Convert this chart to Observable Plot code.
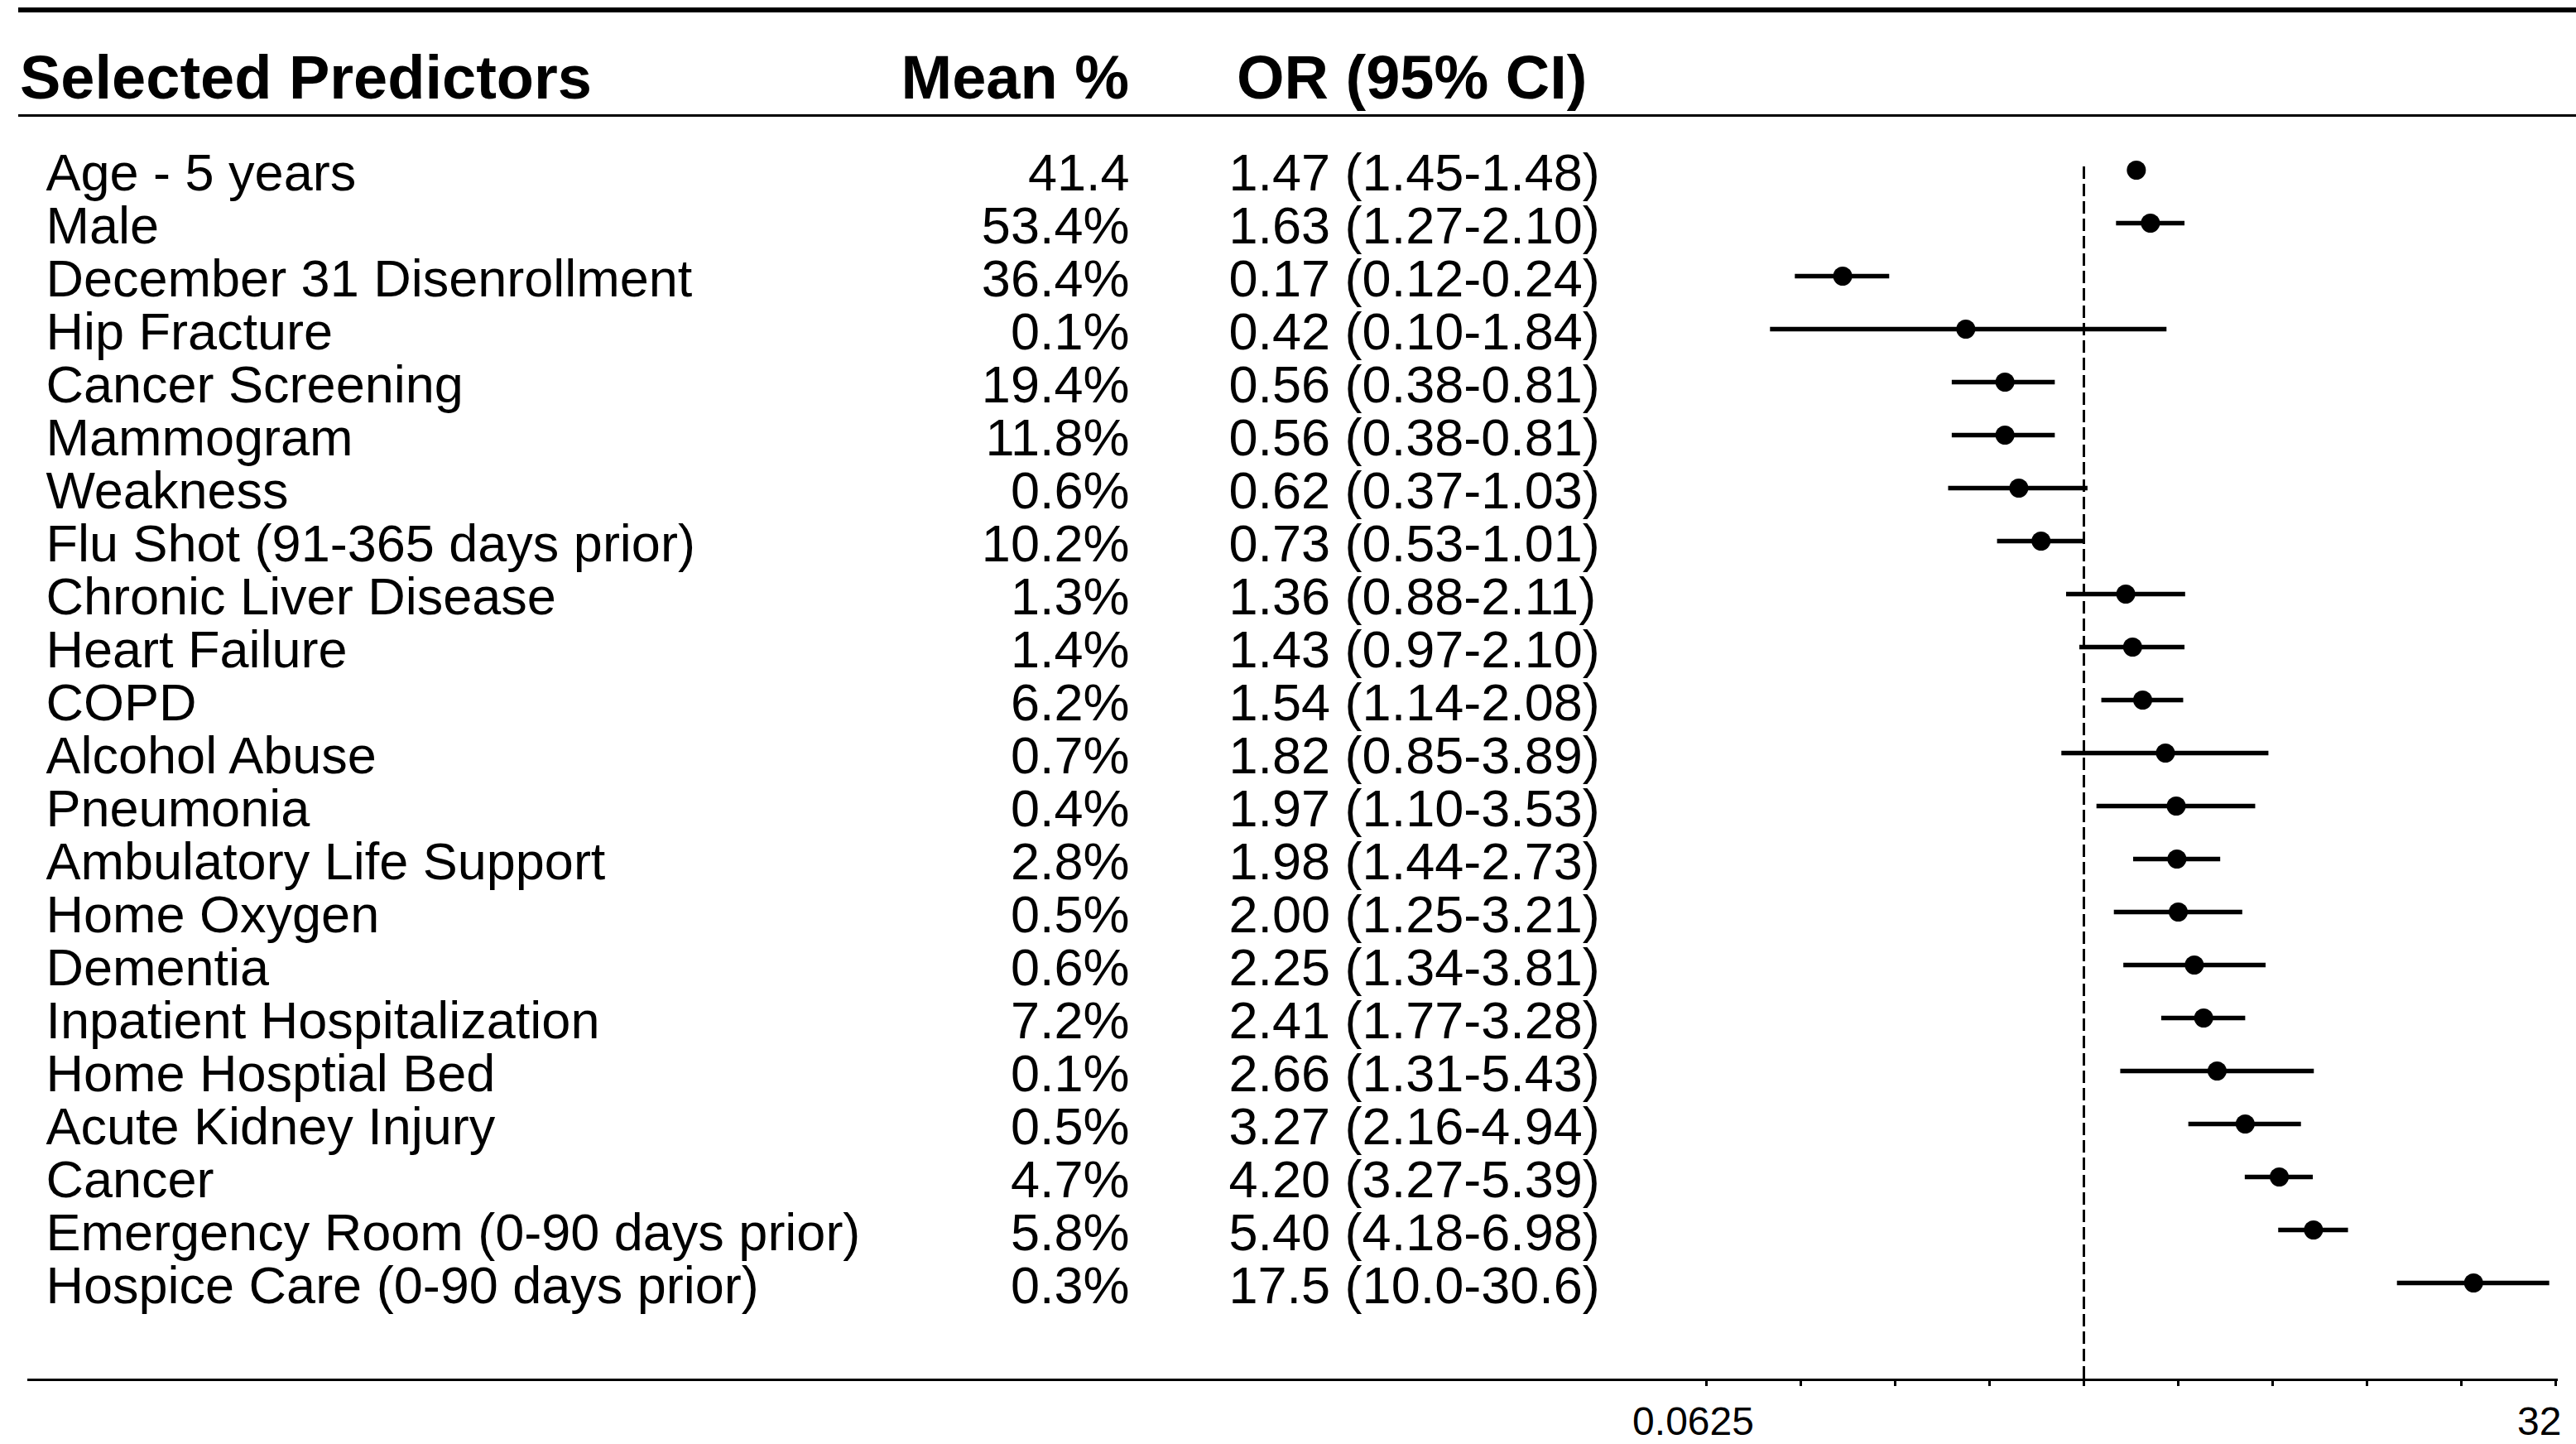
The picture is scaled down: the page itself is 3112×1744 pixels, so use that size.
<!DOCTYPE html>
<html>
<head>
<meta charset="utf-8">
<script src="https://cdn.jsdelivr.net/npm/d3@7"></script>
<script src="https://cdn.jsdelivr.net/npm/@observablehq/plot@0.6"></script>
<style>
  html, body { margin: 0; padding: 0; background: #fff; }
  #chart { width: 3112px; height: 1744px; overflow: hidden; background: #fff; }
  #chart svg { display: block; }
</style>
</head>
<body>
<div id="chart"></div>
<script>
// ---------------- data ----------------
const predictors = [
  "Age - 5 years", "Male", "December 31 Disenrollment", "Hip Fracture",
  "Cancer Screening", "Mammogram", "Weakness", "Flu Shot (91-365 days prior)",
  "Chronic Liver Disease", "Heart Failure", "COPD", "Alcohol Abuse",
  "Pneumonia", "Ambulatory Life Support", "Home Oxygen", "Dementia",
  "Inpatient Hospitalization", "Home Hosptial Bed", "Acute Kidney Injury",
  "Cancer", "Emergency Room (0-90 days prior)", "Hospice Care (0-90 days prior)"
];
const meanPct = [
  "41.4", "53.4%", "36.4%", "0.1%", "19.4%", "11.8%", "0.6%", "10.2%",
  "1.3%", "1.4%", "6.2%", "0.7%", "0.4%", "2.8%", "0.5%", "0.6%",
  "7.2%", "0.1%", "0.5%", "4.7%", "5.8%", "0.3%"
];
const oddsRatio = [
  1.47, 1.63, 0.17, 0.42, 0.56, 0.56, 0.62, 0.73, 1.36, 1.43, 1.54, 1.82,
  1.97, 1.98, 2.00, 2.25, 2.41, 2.66, 3.27, 4.20, 5.40, 17.5
];
const ciLow = [
  1.45, 1.27, 0.12, 0.10, 0.38, 0.38, 0.37, 0.53, 0.88, 0.97, 1.14, 0.85,
  1.10, 1.44, 1.25, 1.34, 1.77, 1.31, 2.16, 3.27, 4.18, 10.0
];
const ciHigh = [
  1.48, 2.10, 0.24, 1.84, 0.81, 0.81, 1.03, 1.01, 2.11, 2.10, 2.08, 3.89,
  3.53, 2.73, 3.21, 3.81, 3.28, 5.43, 4.94, 5.39, 6.98, 30.6
];
const orLabels = [
  "1.47 (1.45-1.48)", "1.63 (1.27-2.10)", "0.17 (0.12-0.24)", "0.42 (0.10-1.84)",
  "0.56 (0.38-0.81)", "0.56 (0.38-0.81)", "0.62 (0.37-1.03)", "0.73 (0.53-1.01)",
  "1.36 (0.88-2.11)", "1.43 (0.97-2.10)", "1.54 (1.14-2.08)", "1.82 (0.85-3.89)",
  "1.97 (1.10-3.53)", "1.98 (1.44-2.73)", "2.00 (1.25-3.21)", "2.25 (1.34-3.81)",
  "2.41 (1.77-3.28)", "2.66 (1.31-5.43)", "3.27 (2.16-4.94)", "4.20 (3.27-5.39)",
  "5.40 (4.18-6.98)", "17.5 (10.0-30.6)"
];
const headerLabels = ["Selected Predictors", "Mean %", "OR (95% CI)"];
const axisTicks = [0.0625, 0.125, 0.25, 0.5, 1, 2, 4, 8, 16, 32];
const axisLabelFirst = [0.0625];
const axisLabelLast = [32];
const referenceOR = [1];

// ---------------- table ----------------
const rows = predictors.map((name, i) => ({
  name, mean: meanPct[i], or: oddsRatio[i], lo: ciLow[i], hi: ciHigh[i], label: orLabels[i]
}));

const W = 3112, H = 1744, HEADER_H = 141;
const FONT = "'Liberation Sans', Arial, Helvetica, sans-serif";

// ---------------- header (above the plot) ----------------
const header = d3.create("svg")
  .attr("width", W).attr("height", HEADER_H)
  .attr("font-family", FONT);
header.append("rect").attr("x", 22).attr("y", 9).attr("width", W - 22).attr("height", 6).attr("fill", "#000");
header.append("rect").attr("x", 22).attr("y", 138).attr("width", W - 22).attr("height", 3).attr("fill", "#000");
const hx = [24, 1364, 1494];
const ha = ["start", "end", "start"];
header.selectAll("text").data(headerLabels).join("text")
  .attr("x", (d, i) => hx[i]).attr("y", 119)
  .attr("text-anchor", (d, i) => ha[i])
  .attr("font-size", 74).attr("font-weight", "bold").attr("fill", "#000")
  .text(d => d);

// ---------------- plot ----------------
const plotH = H - HEADER_H;
const fmt = d => String(d);
const chart = Plot.plot({
  width: W,
  height: plotH,
  marginLeft: 34,
  marginRight: 24,
  marginTop: 60,
  marginBottom: 78,
  style: { fontFamily: FONT, background: "#fff", color: "#000", overflow: "visible" },
  x: { type: "log", base: 2, domain: [0.0625, 32], range: [2061, 3087] },
  y: { type: "point", domain: predictors, range: [63, 1409], padding: 0, axis: null },
  marks: [
    Plot.frame({ anchor: "bottom", strokeWidth: 3, stroke: "#000" }),
    Plot.axisX({ ticks: axisTicks, tickSize: 8, tickFormat: () => "", strokeWidth: 3, stroke: "#000" }),
    Plot.text(axisLabelFirst, { x: d => d, text: fmt, frameAnchor: "bottom", lineAnchor: "top", textAnchor: "middle", dy: 32, dx: -16, fontSize: 48, fill: "#000" }),
    Plot.text(axisLabelLast, { x: d => d, text: fmt, frameAnchor: "bottom", lineAnchor: "top", textAnchor: "end", dy: 32, dx: 7, fontSize: 48, fill: "#000" }),
    Plot.ruleX(referenceOR, { x: d => d, stroke: "#000", strokeWidth: 3, strokeDasharray: "15,6" }),
    Plot.ruleY(rows, { y: "name", x1: "lo", x2: "hi", stroke: "#000", strokeWidth: 5.5 }),
    Plot.dot(rows, { x: "or", y: "name", r: 11.5, fill: "#000", stroke: "none" }),
    Plot.text(rows, { y: "name", text: "name", frameAnchor: "left", dx: 21, dy: 4, textAnchor: "start", fontSize: 63, fill: "#000" }),
    Plot.text(rows, { y: "name", text: "mean", frameAnchor: "left", dx: 1330, dy: 4, textAnchor: "end", fontSize: 63, fill: "#000" }),
    Plot.text(rows, { y: "name", text: "label", frameAnchor: "left", dx: 1450, dy: 4, textAnchor: "start", fontSize: 63, fill: "#000" })
  ]
});

const root = document.getElementById("chart");
root.appendChild(header.node());
root.appendChild(chart);
</script>
</body>
</html>
